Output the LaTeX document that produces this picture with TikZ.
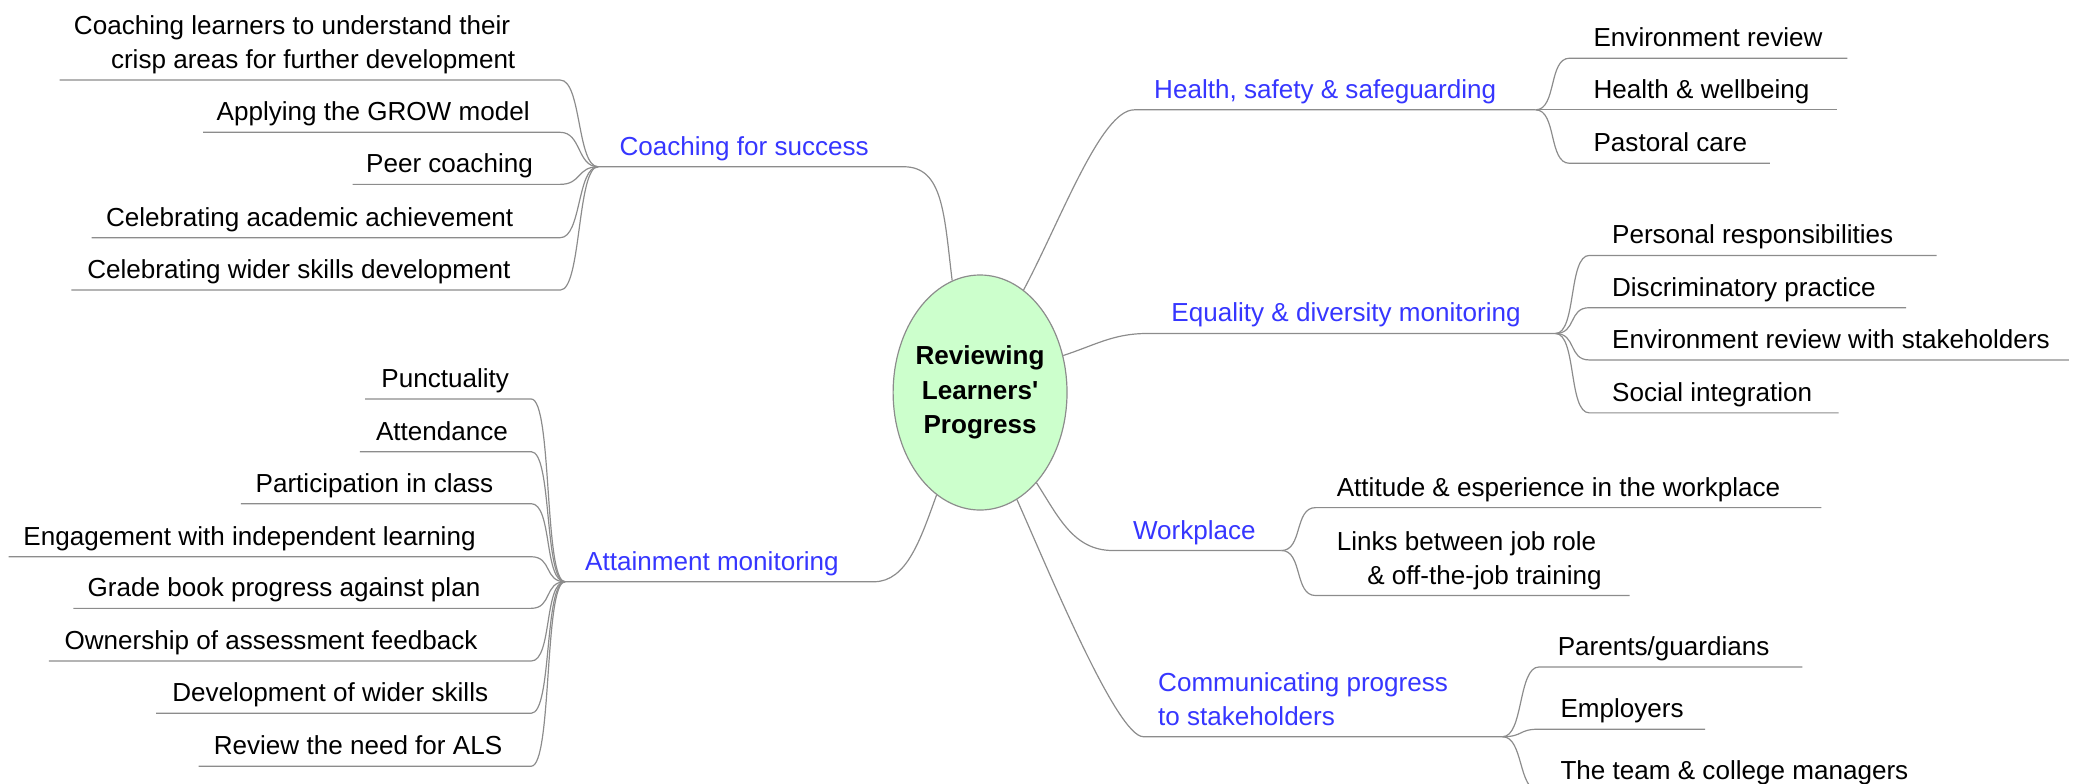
\documentclass[tikz,border=0pt]{standalone}
\usepackage{fontspec}
\setmainfont{Liberation Sans}
\usetikzlibrary{shapes.geometric}
\definecolor{linegray}{HTML}{8C8C8C}
\definecolor{topicblue}{HTML}{3636FF}
\definecolor{rootgreen}{HTML}{CCFFCC}
\newcommand{\twolines}[2]{\begin{tabular}[b]{@{}l@{}}#1\\#2\end{tabular}}
\tikzset{ul/.style 2 args={execute at begin node={\hbox to #1pt\bgroup\hskip #2pt\strut},
    execute at end node={\hfil\egroup}}}

\begin{document}
\begin{tikzpicture}[x=1pt, y=-1pt, font=\fontsize{19.7}{25.5}\selectfont]
    \tikzstyle{link}=[draw=linegray, line width=0.9pt]
    \tikzstyle{fork}=[out=0, in=180, out distance=16pt, in distance=16pt]
    \tikzstyle{item}=[anchor=south west, inner xsep=0pt, inner ysep=0.85pt]
    \tikzstyle{topic}=[item, text=topicblue]

    \useasboundingbox (0,0) rectangle (1568,592);
    \clip (0,0) rectangle (1568,592);

    \node[ellipse, draw=linegray, line width=0.9pt, fill=rootgreen, minimum width=131.4pt,
        minimum height=177.6pt, inner xsep=-3pt, inner ysep=0pt, align=center,
        font=\fontsize{19.7}{26}\bfseries\selectfont] (root) at (740.6,296.6)
        {Reviewing\\Learners\textquotesingle\\Progress};

    % left: coaching for success
    \node[topic, ul={230.5}{16}] (cs) at (452,126) {Coaching for success};
    \node[item, ul={378}{10.7}] (cl1) at (45,60.5) {\twolines{Coaching learners to understand their}{\hspace*{28pt}crisp areas for further development}};
    \node[item, ul={269.5}{10}] (cl2) at (153.5,100) {Applying the GROW model};
    \node[item, ul={156.5}{10}] (cl3) at (266.5,139.3) {Peer coaching};
    \node[item, ul={353.8}{10.8}] (cl4) at (69.2,179.6) {Celebrating academic achievement};
    \node[item, ul={369}{11.8}] (cl5) at (54,219.2) {Celebrating wider skills development};

    % left: attainment monitoring
    \node[topic, ul={233}{15}] (am) at (427,439.6) {Attainment monitoring};
    \node[item, ul={125}{12}] (a1) at (276,301.5) {Punctuality};
    \node[item, ul={129}{12}] (a2) at (272,341.3) {Attendance};
    \node[item, ul={219}{11}] (a3) at (182,380.6) {Participation in class};
    \node[item, ul={394.5}{11}] (a4) at (6.5,420.7) {Engagement with independent learning};
    \node[item, ul={345.5}{10.5}] (a5) at (55.5,459.7) {Grade book progress against plan};
    \node[item, ul={364}{11.6}] (a6) at (37,499.5) {Ownership of assessment feedback};
    \node[item, ul={283}{12}] (a7) at (118,539) {Development of wider skills};
    \node[item, ul={251}{11.4}] (a8) at (150,579) {Review the need for ALS};

    % right: health, safety & safeguarding
    \node[topic, ul={303}{15}] (hs) at (857,83) {Health, safety \& safeguarding};
    \node[item, ul={209.5}{18}] (er) at (1186,44) {Environment review};
    \node[item, ul={201.6}{18}] (hw) at (1186,83) {Health \& wellbeing};
    \node[item, ul={151}{18}] (pc) at (1186,123.4) {Pastoral care};

    % right: equality & diversity
    \node[topic, ul={308}{18}] (ed) at (867,252) {Equality \& diversity monitoring};
    \node[item, ul={262}{17}] (pr) at (1201,193) {Personal responsibilities};
    \node[item, ul={239}{17}] (dp) at (1201,232.5) {Discriminatory practice};
    \node[item, ul={362}{17}] (es) at (1201,272) {Environment review with stakeholders};
    \node[item, ul={188}{17}] (si) at (1201,312) {Social integration};

    % right: workplace
    \node[topic, ul={127}{15}] (wp) at (841,416) {Workplace};
    \node[item, ul={382}{16}] (aw) at (994,383.6) {Attitude \& esperience in the workplace};
    \node[item, ul={237}{16}] (lj) at (994,450) {\twolines{Links between job role}{\hspace*{23pt}\& off-the-job training}};

    % right: communicating progress
    \node[topic, ul={271}{11}] (cp) at (864,556.7) {\twolines{Communicating progress}{to stakeholders}};
    \node[item, ul={198.5}{14}] (pg) at (1163,504) {Parents/guardians};
    \node[item, ul={125}{16}] (em) at (1163,551) {Employers};
    \node[item, ul={310}{16}] (tm) at (1163,597.5) {The team \& college managers};

    % connectors
    \draw[link] (cs.south west) -- (cs.south east) to[out=0, in=97, out distance=30pt, in distance=50pt] (root.104);
    \foreach \n in {cl1,cl2,cl3,cl4,cl5}
        \draw[link] (\n.south west) -- (\n.south east) to[fork] (cs.south west);

    \draw[link] (am.south west) -- (am.south east) to[out=0, in=-110, out distance=25pt, in distance=35pt] (root.-113);
    \foreach \n in {a1,a2,a3,a4,a5,a6,a7,a8}
        \draw[link] (\n.south west) -- (\n.south east) to[fork] (am.south west);

    \draw[link] (root.67) to[out=62, in=180, out distance=60pt, in distance=25pt] (hs.south west) -- (hs.south east);
    \foreach \n in {er,hw,pc}
        \draw[link] (hs.south east) to[fork] (\n.south west) -- (\n.south east);

    \draw[link] (root.24) to[out=18, in=180] (ed.south west) -- (ed.south east);
    \foreach \n in {pr,dp,es,si}
        \draw[link] (ed.south east) to[fork] (\n.south west) -- (\n.south east);

    \draw[link] (root.-58) to[out=-57, in=180] (wp.south west) -- (wp.south east);
    \foreach \n in {aw,lj}
        \draw[link] (wp.south east) to[fork] (\n.south west) -- (\n.south east);

    \draw[link] (root.-71) to[out=-66, in=180, out distance=60pt, in distance=20pt] (cp.south west) -- (cp.south east);
    \foreach \n in {pg,em,tm}
        \draw[link] (cp.south east) to[fork] (\n.south west) -- (\n.south east);
\end{tikzpicture}
\end{document}
